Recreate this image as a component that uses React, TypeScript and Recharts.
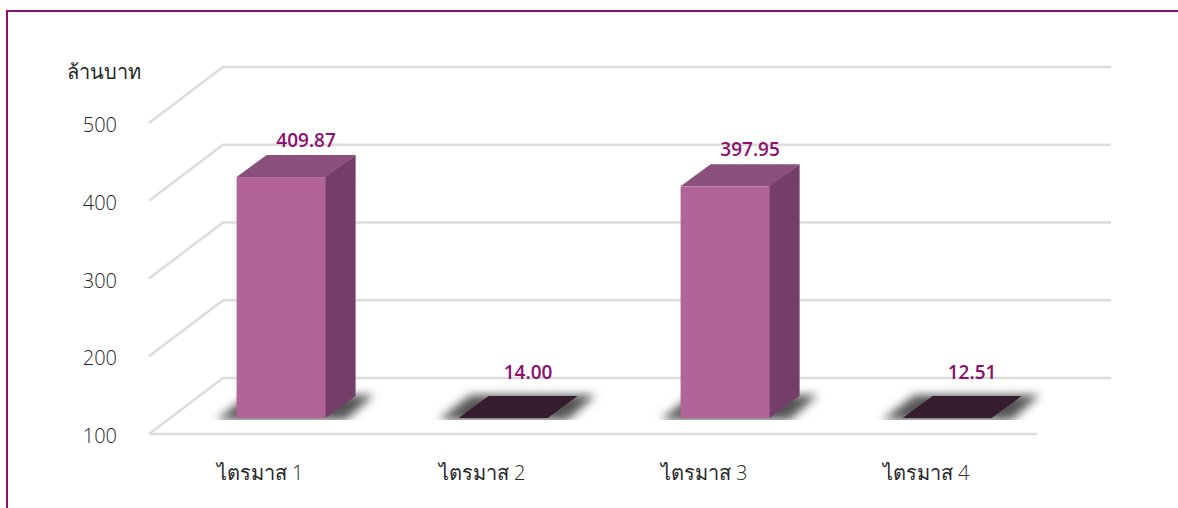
import React from 'react';
import { BarChart, Bar, XAxis, YAxis, CartesianGrid, LabelList } from 'recharts';

const quarters = ['ไตรมาส 1', 'ไตรมาส 2', 'ไตรมาส 3', 'ไตรมาส 4'];
const amounts = [409.87, 14.0, 397.95, 12.51];
const yTicks = [100, 200, 300, 400, 500];
const unitLabel = 'ล้านบาท';

const AXIS_MIN = 100;
const AXIS_MAX = 500;

const chartData = quarters.map((quarter, i) => ({ quarter, amount: amounts[i] }));

// fake 3D: the floor runs back by (WALL_DX, WALL_DY), bars sit a little way in
const WALL_DX = 74;
const WALL_DY = -56;
const BAR_DX = 21;
const BAR_DY = -16;
const DEPTH_DX = 30;
const DEPTH_DY = -22;

const FONT = '"Open Sans", "Noto Sans", sans-serif';
const GRID = '#dcdcdc';
const PURPLE = '#8c0f6d';
const TEXT = '#262626';

const gridLine = (props: any) => {
  const { x1, x2, y1, index } = props;
  return (
    <polyline
      key={`grid-${index}`}
      points={`${x1},${y1} ${x1 + WALL_DX},${y1 + WALL_DY} ${x2 + WALL_DX},${y1 + WALL_DY}`}
      fill="none"
      stroke={GRID}
      strokeWidth={2.5}
    />
  );
};

const Bar3D = (props: any) => {
  const { x, y, width, height } = props;
  const left = x + BAR_DX;
  const right = left + width;
  const bottom = y + height + BAR_DY;
  const top = y + BAR_DY;
  const isFlat = height < 1;

  const shadow = [
    [left - 20, bottom + 2],
    [right + 20, bottom + 2],
    [right + DEPTH_DX + 18, bottom + DEPTH_DY - 1],
    [left + DEPTH_DX - 18, bottom + DEPTH_DY - 1],
  ].join(' ');

  return (
    <g>
      <polygon points={shadow} fill="#555555" filter="url(#floorShadow)" />
      {isFlat ? (
        <polygon
          points={`${left},${bottom} ${right},${bottom} ${right + DEPTH_DX},${bottom + DEPTH_DY} ${left + DEPTH_DX},${bottom + DEPTH_DY}`}
          fill="#351c2e"
        />
      ) : (
        <>
          {/* side starts 1px under the front so no seam shows */}
          <polygon
            points={`${right - 1},${top} ${right + DEPTH_DX},${top + DEPTH_DY} ${right + DEPTH_DX},${bottom + DEPTH_DY} ${right},${bottom} ${right - 1},${bottom}`}
            fill="#733f68"
          />
          <polygon
            points={`${left},${top} ${right},${top} ${right + DEPTH_DX},${top + DEPTH_DY} ${left + DEPTH_DX},${top + DEPTH_DY}`}
            fill="#8a4f7b"
          />
          <rect x={left} y={top} width={width} height={height} fill="#b26399" />
        </>
      )}
    </g>
  );
};

const ValueLabel = (props: any) => {
  const { x, y, width, height, value } = props;
  const gap = height < 1 ? 31 : 22;
  return (
    <text
      x={x + width / 2 + BAR_DX + DEPTH_DX - 5}
      y={y + BAR_DY + DEPTH_DY - gap + 14}
      textAnchor="middle"
      fontFamily={FONT}
      fontSize={19}
      fontWeight={600}
      fill={PURPLE}
    >
      {Number(value).toFixed(2)}
    </text>
  );
};

const App: React.FC = () => {
  return (
    <div style={{ position: 'absolute', left: 0, top: 0, width: 1178, height: 508, overflow: 'hidden', background: '#fff' }}>
      <div
        style={{
          position: 'absolute',
          left: 6,
          top: 10,
          width: 1172,
          height: 498,
          borderTop: `2px solid ${PURPLE}`,
          borderLeft: `2px solid ${PURPLE}`,
        }}
      />
      <div style={{ position: 'absolute', left: 0, top: 0 }}>
        <BarChart
          width={1178}
          height={508}
          data={chartData}
          margin={{ top: 123, right: 141, bottom: 0, left: 59 }}
          barCategoryGap="30%"
        >
          <defs>
            <filter id="floorShadow" x="-20%" y="-40%" width="140%" height="140%">
              <feGaussianBlur stdDeviation="5" />
            </filter>
          </defs>
          <CartesianGrid horizontal={gridLine} vertical={false} />
          <XAxis
            dataKey="quarter"
            height={74}
            interval={0}
            axisLine={{ stroke: GRID, strokeWidth: 2.5 }}
            tickLine={false}
            tickMargin={26}
            tick={{ fontSize: 20, fontFamily: FONT, fontWeight: 300, fill: TEXT }}
          />
          <YAxis
            width={90}
            domain={[AXIS_MIN, AXIS_MAX]}
            ticks={yTicks}
            axisLine={false}
            tickLine={false}
            tickMargin={26}
            tick={{ fontSize: 20, fontFamily: FONT, fontWeight: 300, fill: TEXT, dy: 2 }}
            label={{
              value: unitLabel,
              position: 'top',
              offset: 44,
              fontSize: 20,
              fontFamily: FONT,
              fontWeight: 300,
              fill: TEXT,
            }}
          />
          <Bar
            dataKey={(d: any) => Math.max(d.amount, AXIS_MIN)}
            shape={Bar3D}
            isAnimationActive={false}
          >
            <LabelList dataKey="amount" content={ValueLabel} />
          </Bar>
        </BarChart>
      </div>
    </div>
  );
};

export default App;
